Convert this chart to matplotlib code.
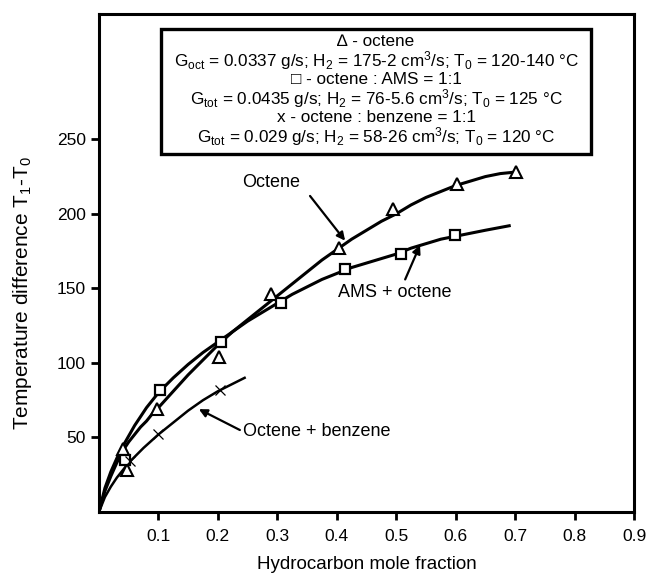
import matplotlib
matplotlib.use("Agg")
import matplotlib.pyplot as plt
from matplotlib.patches import Rectangle

plt.rcParams['font.family'] = ['Liberation Sans', 'DejaVu Sans']
plt.rcParams['mathtext.fontset'] = 'custom'
plt.rcParams['mathtext.rm'] = 'Liberation Sans'
plt.rcParams['mathtext.it'] = 'Liberation Sans:italic'

# measured points
oct_x = [0.040, 0.047, 0.097, 0.202, 0.290, 0.404, 0.495, 0.602, 0.702]
oct_y = [42, 28, 69, 104, 146, 177, 203, 220, 228]
ams_x = [0.044, 0.103, 0.206, 0.306, 0.414, 0.508, 0.599]
ams_y = [35, 82, 114, 140, 163, 173, 186]
benz_x = [0.052, 0.100, 0.204]
benz_y = [34, 52, 82]

# hand-drawn trend curves
oct_fit_x = [0, 0.01, 0.02, 0.03, 0.04, 0.05, 0.06, 0.07, 0.08, 0.09, 0.10, 0.125, 0.15,
             0.175, 0.20, 0.225, 0.25, 0.275, 0.30, 0.325, 0.35, 0.375, 0.40, 0.425,
             0.45, 0.475, 0.50, 0.525, 0.55, 0.575, 0.60, 0.625, 0.65, 0.675, 0.70]
oct_fit_y = [0, 14, 24, 33, 41, 47, 52, 57, 61, 66, 70, 81, 92,
             102, 112, 121, 129, 137, 145, 153, 161, 169, 176, 183,
             189, 195, 200, 206, 211, 215, 219, 222, 225, 227, 228]
ams_fit_x = [0, 0.01, 0.02, 0.03, 0.04, 0.05, 0.06, 0.07, 0.08, 0.09, 0.10, 0.125, 0.15,
             0.175, 0.20, 0.225, 0.25, 0.275, 0.30, 0.325, 0.35, 0.375, 0.40, 0.425,
             0.45, 0.475, 0.50, 0.525, 0.55, 0.575, 0.60, 0.625, 0.65, 0.69]
ams_fit_y = [0, 16, 27, 36, 44, 51, 58, 64, 70, 75, 80, 90, 99,
             107, 114, 121, 128, 134, 140, 146, 151, 156, 160, 164,
             167, 170, 173, 177, 180, 183, 185, 187, 189, 192]
benz_fit_x = [0, 0.01, 0.02, 0.03, 0.04, 0.05, 0.075, 0.10, 0.125, 0.15, 0.175, 0.20, 0.245]
benz_fit_y = [0, 10, 17, 23, 28, 33, 43, 52, 60, 68, 75, 81, 90]

x_ticks = [0.1, 0.2, 0.3, 0.4, 0.5, 0.6, 0.7, 0.8, 0.9]
y_ticks = [50, 100, 150, 200, 250]

legend_lines = [
    "\u2206 - octene",
    r"G$_{\mathrm{oct}}$ = 0.0337 g/s; H$_2$ = 175-2 cm$^3$/s; T$_0$ = 120-140 °C",
    "\u25a1 - octene : AMS = 1:1",
    r"G$_{\mathrm{tot}}$ = 0.0435 g/s; H$_2$ = 76-5.6 cm$^3$/s; T$_0$ = 125 °C",
    "x - octene : benzene = 1:1",
    r"G$_{\mathrm{tot}}$ = 0.029 g/s; H$_2$ = 58-26 cm$^3$/s; T$_0$ = 120 °C",
]

fig = plt.figure(figsize=(6.51, 5.79), dpi=100)
ax = fig.add_axes([0.152, 0.1157, 0.822, 0.86])

lw = 2.2
ax.plot(oct_fit_x, oct_fit_y, 'k-', lw=lw)
ax.plot(ams_fit_x, ams_fit_y, 'k-', lw=lw)
ax.plot(benz_fit_x, benz_fit_y, 'k-', lw=1.8)

ax.plot(oct_x, oct_y, ls='none', marker='^', ms=9, mfc='white', mec='k', mew=1.5)
ax.plot(ams_x, ams_y, ls='none', marker='s', ms=7, mfc='white', mec='k', mew=1.6)
ax.plot(benz_x, benz_y, ls='none', marker='x', ms=7, mec='k', mew=0.9)

arrow = dict(arrowstyle='-|>', color='k', lw=1.6, mutation_scale=12, shrinkA=0, shrinkB=0)
ax.text(0.29, 221, "Octene", fontsize=13, ha='center', va='center')
ax.annotate("", xy=(0.414, 182), xytext=(0.355, 212), arrowprops=arrow)
ax.text(0.402, 147, "AMS + octene", fontsize=13, ha='left', va='center')
ax.annotate("", xy=(0.54, 179), xytext=(0.515, 156), arrowprops=arrow)
ax.text(0.242, 54, "Octene + benzene", fontsize=13, ha='left', va='center')
ax.annotate("", xy=(0.168, 69), xytext=(0.237, 55), arrowprops=arrow)

# caption box
ax.add_patch(Rectangle((0.104, 240), 0.724, 84, fill=False, lw=2.4, ec='k', zorder=5))
for i, line in enumerate(legend_lines):
    ax.text(0.466, 315.4 - i * 12.75, line, ha='center', va='center', fontsize=12.3)

ax.set_xlim(0, 0.9)
ax.set_ylim(0, 334)
ax.set_xticks(x_ticks)
ax.set_xticklabels([f"{t:.1f}" for t in x_ticks])
ax.set_yticks(y_ticks)
ax.tick_params(direction='out', length=6, width=2, labelsize=12.5)
ax.tick_params(axis='x', pad=6)
for s in ax.spines.values():
    s.set_linewidth(2.2)

ax.set_xlabel("Hydrocarbon mole fraction", fontsize=13.5, labelpad=9)
ax.set_ylabel(r"Temperature difference T$_1$-T$_0$", fontsize=15)
ax.yaxis.set_label_coords(-0.122, 0.44)

fig.savefig("out.png", dpi=100)
